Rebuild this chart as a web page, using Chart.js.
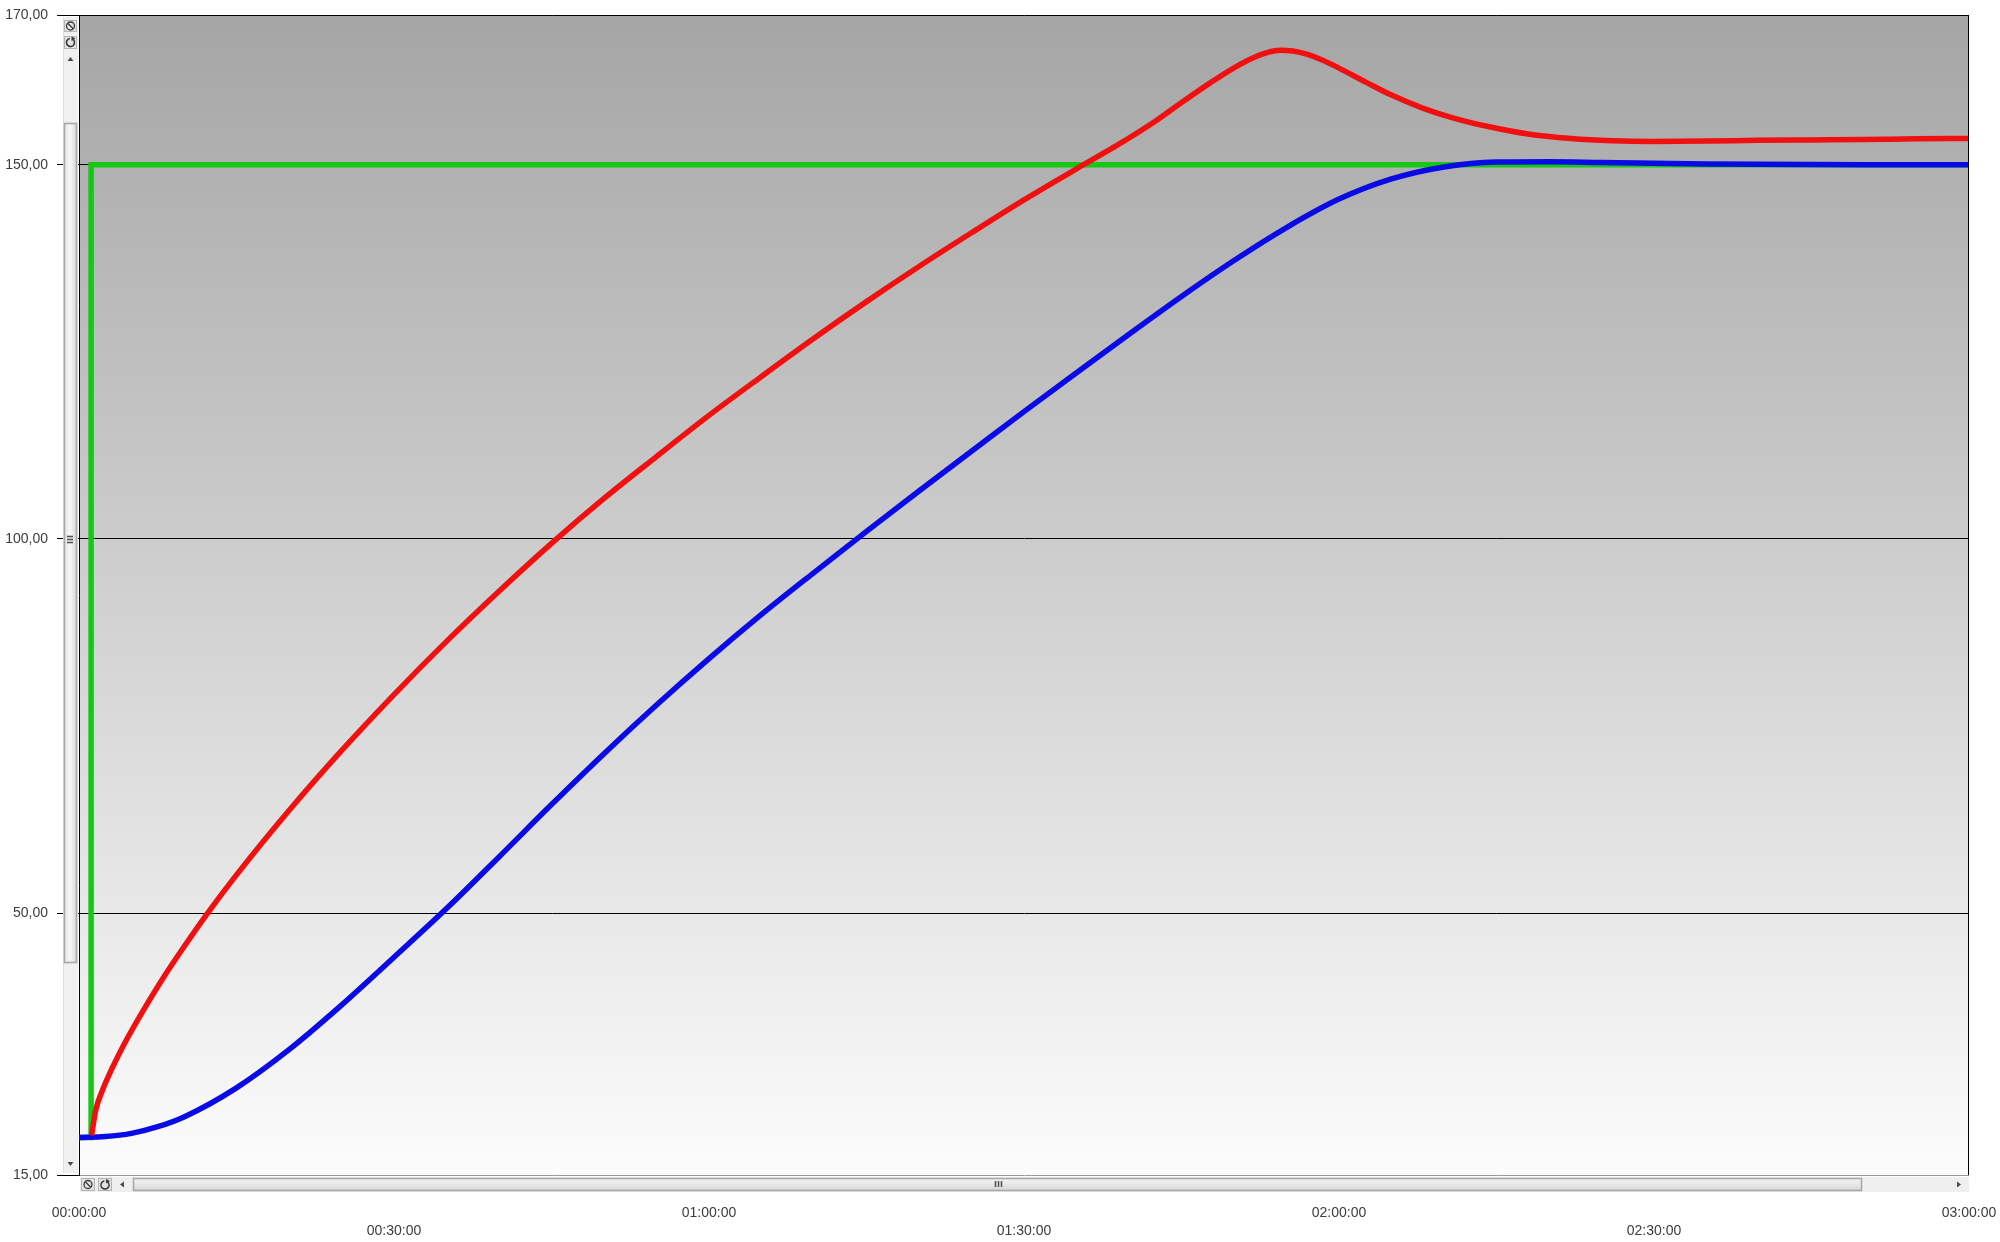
<!DOCTYPE html>
<html>
<head>
<meta charset="utf-8">
<script src="https://cdn.jsdelivr.net/npm/chart.js@4/dist/chart.umd.min.js"></script>
<style>
  html, body { margin: 0; padding: 0; background: #ffffff; }
  #wrap { width: 2000px; height: 1242px; }
</style>
</head>
<body>
<div id="wrap"><canvas id="c" width="2000" height="1242"></canvas></div>
<script>
// ---- data (time in minutes, values in units of the y axis) ----
const redTimes   = [1.2, 1.6, 2.2, 3.2, 4.5, 6.0, 8.0, 10.0, 12.2, 15, 20, 25, 30, 35, 40, 45, 50, 55, 60, 65, 70, 75, 80, 85, 90, 95, 99, 102.5, 105, 107.8, 110, 112, 113.3, 114.4, 115.6, 117, 118.4, 120, 122.6, 125, 127.9, 131, 134.2, 138, 142.1, 146, 150, 155, 160, 165, 170, 175, 180];
const redValues  = [20.3, 23.7, 26.2, 29.4, 33.0, 36.7, 41.3, 45.5, 49.9, 55.1, 63.7, 71.7, 79.2, 86.3, 93.0, 99.4, 105.4, 111.0, 116.5, 121.7, 126.8, 131.7, 136.4, 140.9, 145.3, 149.45, 152.7, 155.8, 158.3, 161.0, 162.95, 164.4, 165.05, 165.3, 165.2, 164.75, 164.0, 162.9, 161.0, 159.3, 157.6, 156.2, 155.1, 154.1, 153.5, 153.2, 153.1, 153.15, 153.25, 153.3, 153.35, 153.45, 153.5];

const blueTimes  = [0, 2.5, 5, 7.5, 10, 15, 20, 25, 30, 35, 40, 45, 50, 55, 60, 65, 70, 75, 80, 85, 90, 95, 100, 105, 110, 115, 120, 125, 130, 135, 140, 145, 150, 155, 160, 170, 180];
const blueValues = [20.0, 20.13, 20.56, 21.45, 22.76, 26.65, 31.75, 37.7, 44.1, 50.6, 57.5, 64.5, 71.3, 77.8, 84.0, 89.9, 95.5, 101.0, 106.4, 111.7, 117.0, 122.2, 127.35, 132.4, 137.2, 141.6, 145.4, 148.1, 149.7, 150.35, 150.4, 150.3, 150.2, 150.1, 150.05, 150.0, 150.0];

const greenTimes  = [0, 1.15, 1.15, 180];
const greenValues = [20, 20, 150, 150];

const xTicks = [0, 30, 60, 90, 120, 150, 180];
const yTicks = [15, 50, 100, 150, 170];

// ---- helpers ----
const pts = (ts, vs) => ts.map((t, i) => ({ x: t, y: vs[i] }));
const pad2 = n => String(n).padStart(2, '0');
const fmtTime = v => pad2(Math.floor(v / 60)) + ':' + pad2(Math.round(v % 60)) + ':00';
const fmtVal = v => v.toFixed(2).replace('.', ',');

const FONT = { family: "'Liberation Sans', Arial, sans-serif", size: 14, lineHeight: 18 / 14 };
const TEXT = '#3c3c3c';

const bgPlugin = {
  id: 'bgGradient',
  beforeDraw(chart) {
    const { ctx, chartArea: a } = chart;
    const g = ctx.createLinearGradient(0, a.top, 0, a.bottom);
    g.addColorStop(0, '#a5a5a5');
    g.addColorStop(1, '#fcfcfc');
    ctx.save();
    ctx.fillStyle = g;
    ctx.fillRect(a.left, a.top, a.right - a.left, a.bottom - a.top);
    ctx.restore();
  }
};

function btn(ctx, x, y, w, h) {
  ctx.fillStyle = '#e3e3e3';
  ctx.fillRect(x, y, w, h);
  ctx.strokeStyle = '#b4b4b4';
  ctx.lineWidth = 1;
  ctx.strokeRect(x + 0.5, y + 0.5, w - 1, h - 1);
}
function iconNo(ctx, cx, cy) {
  ctx.strokeStyle = '#3a3a3a'; ctx.lineWidth = 1.3;
  ctx.beginPath(); ctx.arc(cx, cy, 4, 0, Math.PI * 2); ctx.stroke();
  ctx.beginPath(); ctx.moveTo(cx - 2.8, cy - 2.8); ctx.lineTo(cx + 2.8, cy + 2.8); ctx.stroke();
}
function iconRefresh(ctx, cx, cy) {
  ctx.strokeStyle = '#3a3a3a'; ctx.lineWidth = 1.6;
  ctx.beginPath(); ctx.arc(cx, cy, 4, -Math.PI * 0.35, Math.PI * 1.45); ctx.stroke();
  ctx.fillStyle = '#3a3a3a';
  ctx.beginPath(); ctx.moveTo(cx + 1, cy - 6); ctx.lineTo(cx + 5, cy - 4); ctx.lineTo(cx + 1, cy - 1.5); ctx.closePath(); ctx.fill();
}
function tri(ctx, p) {
  ctx.fillStyle = '#4a4a4a';
  ctx.beginPath(); ctx.moveTo(p[0], p[1]); ctx.lineTo(p[2], p[3]); ctx.lineTo(p[4], p[5]); ctx.closePath(); ctx.fill();
}

const framePlugin = {
  id: 'frameAndScrollbars',
  afterDraw(chart) {
    const { ctx, chartArea: a } = chart;
    ctx.save();
    // right border
    ctx.strokeStyle = '#000'; ctx.lineWidth = 1;
    ctx.beginPath(); ctx.moveTo(a.right - 0.5, a.top); ctx.lineTo(a.right - 0.5, a.bottom); ctx.stroke();

    // ---- vertical scrollbar ----
    const vx = a.left - 16, vw = 15, vy0 = a.top + 2, vy1 = a.bottom - 2;
    ctx.fillStyle = '#f0f0f0';
    ctx.fillRect(vx, vy0, vw, vy1 - vy0);
    ctx.strokeStyle = '#dedede';
    ctx.beginPath(); ctx.moveTo(vx + 0.5, vy0); ctx.lineTo(vx + 0.5, vy1); ctx.stroke();
    btn(ctx, vx + 1, vy0 + 3, 13, 12); iconNo(ctx, vx + 7.5, vy0 + 9);
    btn(ctx, vx + 1, vy0 + 19, 13, 13); iconRefresh(ctx, vx + 7.5, vy0 + 25.5);
    tri(ctx, [vx + 7.5, vy0 + 40, vx + 4.5, vy0 + 44, vx + 10.5, vy0 + 44]);
    // thumb
    const tg = ctx.createLinearGradient(vx + 1, 0, vx + 14, 0);
    tg.addColorStop(0, '#e2e2e2'); tg.addColorStop(0.45, '#f7f7f7'); tg.addColorStop(1, '#d6d6d6');
    ctx.fillStyle = tg;
    ctx.fillRect(vx + 1, 123, 13, 840);
    ctx.strokeStyle = '#a9a9a9';
    ctx.strokeRect(vx + 1.5, 123.5, 12, 839);
    ctx.strokeStyle = '#555';
    for (const gy of [536.5, 539.5, 542.5]) { ctx.beginPath(); ctx.moveTo(vx + 4, gy); ctx.lineTo(vx + 10, gy); ctx.stroke(); }
    tri(ctx, [vx + 7.5, vy1 - 7, vx + 4.5, vy1 - 11, vx + 10.5, vy1 - 11]);

    // ---- horizontal scrollbar ----
    const hy = a.bottom + 2, hh = 15;
    ctx.fillStyle = '#efefef';
    ctx.fillRect(a.left + 1, hy, a.right - a.left - 1, hh);
    btn(ctx, a.left + 2, hy + 1, 14, 13); iconNo(ctx, a.left + 9, hy + 7.5);
    btn(ctx, a.left + 19, hy + 1, 14, 13); iconRefresh(ctx, a.left + 26, hy + 8);
    tri(ctx, [a.left + 41, hy + 7.5, a.left + 45, hy + 4.5, a.left + 45, hy + 10.5]);
    const hg = ctx.createLinearGradient(0, hy + 1, 0, hy + 14);
    hg.addColorStop(0, '#f4f4f4'); hg.addColorStop(0.5, '#e8e8e8'); hg.addColorStop(1, '#d4d4d4');
    ctx.fillStyle = hg;
    ctx.fillRect(133, hy + 1, 1862 - 133, 13);
    ctx.strokeStyle = '#a9a9a9';
    ctx.strokeRect(133.5, hy + 1.5, 1862 - 134, 12);
    ctx.strokeStyle = '#555';
    for (const gx of [995.5, 998.5, 1001.5]) { ctx.beginPath(); ctx.moveTo(gx, hy + 4); ctx.lineTo(gx, hy + 10); ctx.stroke(); }
    tri(ctx, [a.right - 8, hy + 7.5, a.right - 12, hy + 4.5, a.right - 12, hy + 10.5]);
    ctx.restore();
  }
};

new Chart(document.getElementById('c').getContext('2d'), {
  type: 'line',
  data: {
    datasets: [
      { label: 'red', data: pts(redTimes, redValues), borderColor: '#f01010', borderWidth: 5.5,
        pointRadius: 0, cubicInterpolationMode: 'monotone', fill: false },
      { label: 'blue', data: pts(blueTimes, blueValues), borderColor: '#0a0ae6', borderWidth: 5.5,
        pointRadius: 0, cubicInterpolationMode: 'monotone', fill: false },
      { label: 'green', data: pts(greenTimes, greenValues), borderColor: '#14c814', borderWidth: 5.5,
        pointRadius: 0, tension: 0, borderJoinStyle: 'miter', fill: false }
    ]
  },
  options: {
    responsive: false,
    animation: false,
    layout: { padding: { top: 15, right: 31, left: 0, bottom: 0 } },
    plugins: { legend: { display: false }, tooltip: { enabled: false } },
    scales: {
      x: {
        type: 'linear', min: 0, max: 180,
        afterBuildTicks: s => { s.ticks = xTicks.map(v => ({ value: v })); },
        afterFit: s => { s.height = 67; s.paddingLeft = 0; s.paddingRight = 0; },
        grid: { display: false, drawTicks: false },
        border: { display: false },
        ticks: {
          padding: 29, maxRotation: 0, minRotation: 0, autoSkip: false,
          font: FONT, color: TEXT,
          callback: (v, i) => (i % 2 ? ['', fmtTime(v)] : fmtTime(v))
        }
      },
      y: {
        type: 'linear', min: 15, max: 170,
        afterBuildTicks: s => { s.ticks = yTicks.map(v => ({ value: v })); },
        afterFit: s => { s.width = 79; s.paddingTop = 0; s.paddingBottom = 0; },
        grid: {
          color: c => (c.tick && c.tick.value === 15 ? '#9a9a9a' : '#000000'),
          tickColor: '#000000', lineWidth: 1, drawTicks: true, tickLength: 22
        },
        border: { display: true, color: '#000000', width: 1 },
        ticks: { padding: 9, font: FONT, color: TEXT, callback: v => fmtVal(v) }
      }
    }
  },
  plugins: [bgPlugin, framePlugin]
});
</script>
</body>
</html>
